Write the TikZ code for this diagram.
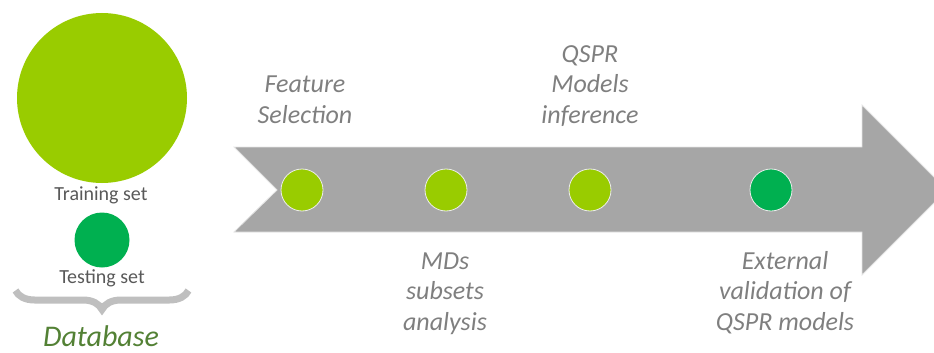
\documentclass[tikz,border=0pt]{standalone}
\usepackage{fontspec}
\setmainfont{Carlito}
\usepackage{tikz}
\usetikzlibrary{decorations.pathreplacing}
\definecolor{trainGreen}{HTML}{99CC00}
\definecolor{testGreen}{HTML}{00B050}
\definecolor{dbGreen}{HTML}{538135}
\definecolor{arrowGray}{HTML}{A6A6A6}
\definecolor{braceGray}{HTML}{BFBFBF}
\definecolor{stepText}{HTML}{7F7F7F}
\definecolor{setText}{HTML}{595959}

\tikzset{
  stepdot/.style={circle, draw=white!85!gray, line width=0.8pt, minimum size=42pt, inner sep=0pt},
  steplabel/.style={font=\fontsize{26}{30.5}\selectfont\itshape, text=stepText, align=center, anchor=base, inner sep=0pt},
  setlabel/.style={font=\fontsize{20}{24}\selectfont, text=setText, anchor=base, inner sep=0pt}
}

\begin{document}
\begin{tikzpicture}[x=1pt,y=-1pt]

\useasboundingbox (0,0) rectangle (934,353);
\clip (0,0) rectangle (934,353);

% the database
\node[circle, fill=trainGreen, minimum size=170pt, inner sep=0pt] (train) at (102,98) {};
\node[setlabel] (trainlab) at (101,200) {Training set};
\node[circle, fill=testGreen, minimum size=55pt, inner sep=0pt] (test) at (102,240) {};
\node[setlabel] (testlab) at (102,283) {Testing set};
\draw [braceGray, line width=7pt, decorate, decoration={brace, mirror, amplitude=19pt}] (15.5,290.5) -- (188.5,290.5);
\node[font=\fontsize{30}{36}\selectfont\itshape, text=dbGreen, anchor=base, inner sep=0pt] (db) at (101,346) {Database};

% the workflow arrow
\path [fill=arrowGray, draw=white!80!gray, line width=0.8pt]
  (234,147) -- (862,147) -- (862,105) -- (947,190) -- (862,275) -- (862,232) -- (234,232) -- (277,190) -- cycle;

\node[stepdot, fill=trainGreen] (feat) at (302,190) {};
\node[stepdot, fill=trainGreen] (mds) at (446,190) {};
\node[stepdot, fill=trainGreen] (qspr) at (590,190) {};
\node[stepdot, fill=testGreen] (valid) at (771,190) {};

% base = last line of each label
\node[steplabel] (featlab) at (305,123) {Feature\\Selection};
\node[steplabel] (qsprlab) at (590,123) {QSPR\\Models\\inference};
\node[steplabel] (mdslab) at (445,330) {MDs\\subsets\\analysis};
\node[steplabel] (validlab) at (785,330) {External\\validation of\\QSPR models};
\end{tikzpicture}
\end{document}
